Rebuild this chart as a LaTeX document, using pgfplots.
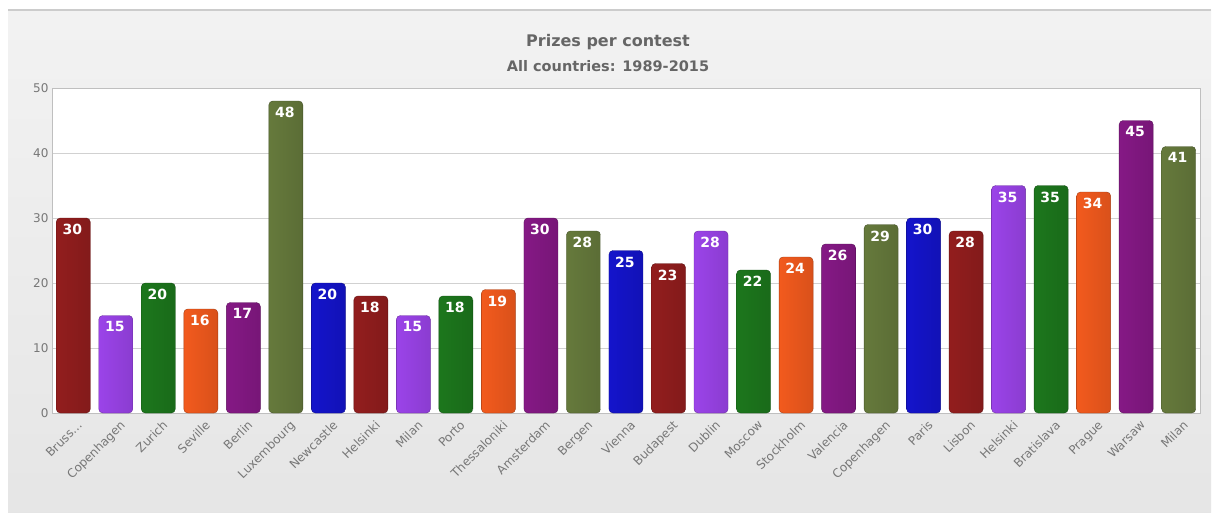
\documentclass[border=0pt]{standalone}
\usepackage{fontspec}
\setmainfont{DejaVu Sans}
\usepackage{pgfplots}
\pgfplotsset{compat=1.18}
\definecolor{txt}{HTML}{666666}
\definecolor{tck}{HTML}{777777}
\definecolor{cdr}{HTML}{9A1F1F}
\definecolor{clp}{HTML}{A347F5}
\definecolor{cgr}{HTML}{1E7D1E}
\definecolor{cor}{HTML}{FF5F1F}
\definecolor{cpu}{HTML}{8C1A8C}
\definecolor{col}{HTML}{6B803F}
\definecolor{cbl}{HTML}{1515D6}
\pgfplotsset{
  mybar/.style={draw=#1!65!black, left color=#1!95!black, middle color=#1!72!white, right color=#1!85!black, rounded corners=4pt},
}
\begin{document}
\begin{tikzpicture}[x=1pt,y=1pt]
\fill[white] (0,0) rectangle (1216,512);
\shade[top color=black!5, bottom color=black!10] (8,0) rectangle (1211,502);
\draw[black!20, line width=1.5pt] (8,502) -- (1211,502);
\node[font=\bfseries\fontsize{16}{18}\selectfont, text=txt] at (608,470) {Prizes per contest};
\node[font=\bfseries\fontsize{14.5}{16}\selectfont, text=txt] at (608,446) {All countries: 1989-2015};
\begin{axis}[
  at={(52pt,99pt)}, anchor=south west,
  scale only axis, width=1148pt, height=325pt,
  xmin=-0.5, xmax=26.5, ymin=0, ymax=50,
  ybar, bar width=34pt, bar shift=0pt,
  axis background/.style={fill=white},
  axis line style={black!25},
  ymajorgrids, grid style={black!18},
  ytick={0,10,20,30,40,50},
  xtick={0,1,2,3,4,5,6,7,8,9,10,11,12,13,14,15,16,17,18,19,20,21,22,23,24,25,26},
  xticklabels={{Bruss\ldots},Copenhagen,Zurich,Seville,Berlin,Luxembourg,Newcastle,Helsinki,Milan,Porto,Thessaloniki,Amsterdam,Bergen,Vienna,Budapest,Dublin,Moscow,Stockholm,Valencia,Copenhagen,Paris,Lisbon,Helsinki,Bratislava,Prague,Warsaw,Milan},
  x tick label style={rotate=45, anchor=north east, font=\fontsize{12}{14}\selectfont, text=tck, xshift=2pt, yshift=-3pt, inner sep=1pt},
  y tick label style={font=\fontsize{12}{14}\selectfont, text=tck},
  /pgf/number format/assume math mode=true,
  major tick style={draw=none},
  nodes near coords,
  nodes near coords style={anchor=north, yshift=-6pt, xshift=-1pt, text=white, font=\bfseries\fontsize{14}{16}\selectfont, inner sep=0pt},
  clip=false,
]
\addplot[mybar=cdr] coordinates {(0,30)};
\addplot[mybar=clp] coordinates {(1,15)};
\addplot[mybar=cgr] coordinates {(2,20)};
\addplot[mybar=cor] coordinates {(3,16)};
\addplot[mybar=cpu] coordinates {(4,17)};
\addplot[mybar=col] coordinates {(5,48)};
\addplot[mybar=cbl] coordinates {(6,20)};
\addplot[mybar=cdr] coordinates {(7,18)};
\addplot[mybar=clp] coordinates {(8,15)};
\addplot[mybar=cgr] coordinates {(9,18)};
\addplot[mybar=cor] coordinates {(10,19)};
\addplot[mybar=cpu] coordinates {(11,30)};
\addplot[mybar=col] coordinates {(12,28)};
\addplot[mybar=cbl] coordinates {(13,25)};
\addplot[mybar=cdr] coordinates {(14,23)};
\addplot[mybar=clp] coordinates {(15,28)};
\addplot[mybar=cgr] coordinates {(16,22)};
\addplot[mybar=cor] coordinates {(17,24)};
\addplot[mybar=cpu] coordinates {(18,26)};
\addplot[mybar=col] coordinates {(19,29)};
\addplot[mybar=cbl] coordinates {(20,30)};
\addplot[mybar=cdr] coordinates {(21,28)};
\addplot[mybar=clp] coordinates {(22,35)};
\addplot[mybar=cgr] coordinates {(23,35)};
\addplot[mybar=cor] coordinates {(24,34)};
\addplot[mybar=cpu] coordinates {(25,45)};
\addplot[mybar=col] coordinates {(26,41)};
\end{axis}
\end{tikzpicture}
\end{document}
